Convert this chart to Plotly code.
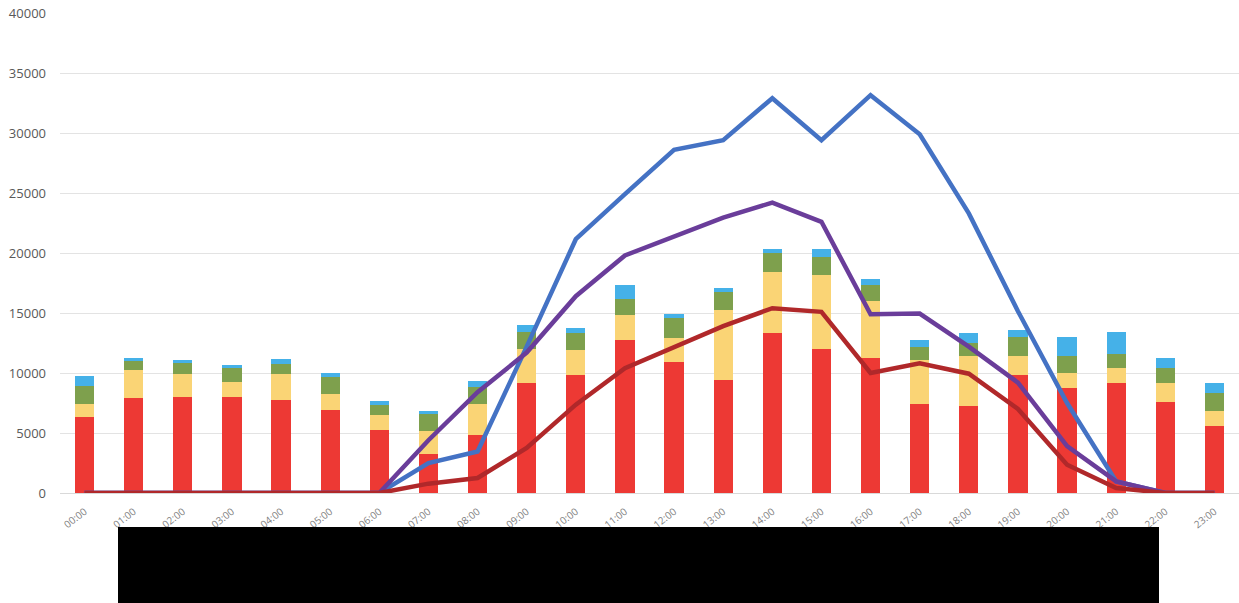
import plotly.graph_objects as go

hours = [f"{h:02d}:00" for h in range(24)]

# stacked bar segments (bottom to top)
red_bar = [6300, 7950, 8000, 8000, 7780, 6890, 5280, 3270, 4860, 9190, 9800, 12780,
           10890, 9420, 13330, 12030, 11280, 7390, 7280, 9800, 8780, 9140, 7580, 5580]
yellow_bar = [1150, 2330, 1920, 1220, 2110, 1390, 1190, 1870, 2530, 2810, 2120, 2020,
              2050, 5830, 5110, 6160, 4750, 3670, 4160, 1590, 1220, 1280, 1560, 1250]
green_bar = [1500, 750, 910, 1230, 890, 1420, 840, 1470, 1440, 1390, 1440, 1330,
             1610, 1530, 1560, 1480, 1280, 1130, 1060, 1610, 1390, 1190, 1300, 1500]
blue_bar = [770, 250, 230, 190, 390, 270, 360, 250, 470, 580, 420, 1200,
            340, 300, 360, 690, 520, 560, 830, 580, 1610, 1810, 780, 810]

# lines
blue_line = [0, 0, 0, 0, 0, 0, 0, 2500, 3460, 12200, 21150, 24900,
             28600, 29400, 32900, 29400, 33150, 29900, 23300, 15150, 7500, 960, 0, 0]
purple_line = [0, 0, 0, 0, 0, 0, 0, 4400, 8400, 11700, 16400, 19800,
               21350, 22950, 24200, 22600, 14900, 14950, 12200, 9200, 3900, 970, 0, 0]
red_line = [0, 0, 0, 0, 0, 0, 0, 780, 1250, 3750, 7360, 10400,
            12200, 13900, 15400, 15100, 10000, 10800, 9940, 7000, 2360, 420, 0, 0]

bar_colors = ["#ED3934", "#FAD475", "#7EA04D", "#45B1E8"]
line_colors = ["#4472C4", "#6A3D9A", "#B0282A"]

fig = go.Figure()
for vals, col in zip([red_bar, yellow_bar, green_bar, blue_bar], bar_colors):
    fig.add_trace(go.Bar(x=hours, y=vals, marker=dict(color=col, line=dict(width=0))))
for vals, col in zip([blue_line, purple_line, red_line], line_colors):
    fig.add_trace(go.Scatter(x=hours, y=vals, mode="lines",
                             line=dict(color=col, width=4.5)))

fig.update_layout(
    width=1239, height=603,
    margin=dict(l=60, r=0, t=13, b=110),
    barmode="stack", bargap=0.61,
    showlegend=False,
    plot_bgcolor="white", paper_bgcolor="white",
    font=dict(family="Open Sans", color="#595959"),
    xaxis=dict(type="category", tickangle=-38, tickfont=dict(size=10, color="#808080"),
               showgrid=False, showline=False, ticks="", range=[-0.5, 23.5],
               ticklabelstandoff=10),
    yaxis=dict(range=[0, 40000], dtick=5000, tickformat="d", gridcolor="#E3E3E3",
               gridwidth=1, zeroline=True, zerolinecolor="#D9D9D9", zerolinewidth=1,
               tickfont=dict(size=13, color="#595959"), ticks="", ticklabelstandoff=13),
    shapes=[dict(type="rect", xref="paper", yref="paper",
                 x0=(118 - 60) / 1179, x1=(1159 - 60) / 1179,
                 y0=-0.26, y1=(493 - 527) / 480,
                 fillcolor="black", line=dict(width=0), layer="above")],
)

fig.write_html("out.html", config={"displayModeBar": False},
               post_script="document.body.style.margin='0';document.body.style.overflow='hidden';")
